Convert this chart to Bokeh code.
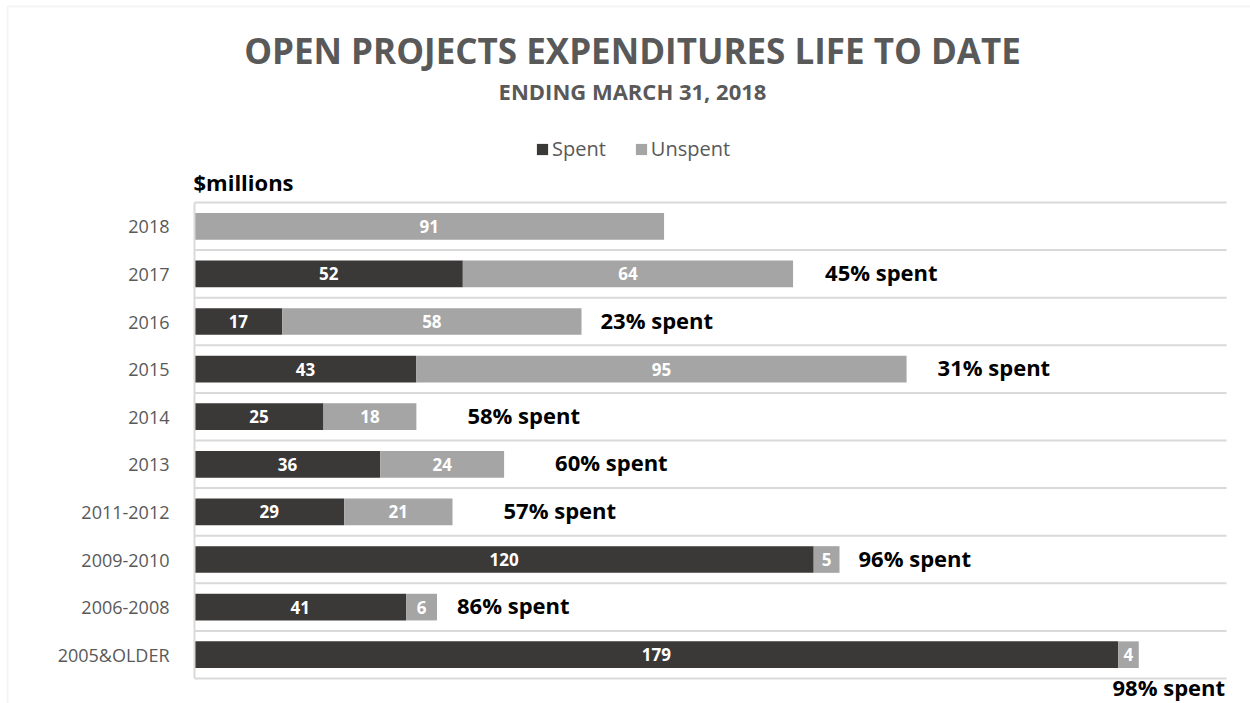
from bokeh.plotting import figure
from bokeh.models import (ColumnDataSource, FixedTicker, Label, Legend, LegendItem, BoxAnnotation)
from bokeh.core.properties import value
from bokeh.embed import file_html
from bokeh.resources import INLINE

# ---------------- data ----------------
categories = ["2018", "2017", "2016", "2015", "2014", "2013",
              "2011-2012", "2009-2010", "2006-2008", "2005&OLDER"]
spent = [0, 52, 17, 43, 25, 36, 29, 120, 41, 179]
unspent = [91, 64, 58, 95, 18, 24, 21, 5, 6, 4]
pct_labels = ["", "45% spent", "23% spent", "31% spent", "58% spent",
              "60% spent", "57% spent", "96% spent", "86% spent", "98% spent"]
series_names = ["Spent", "Unspent"]
title_text = "OPEN PROJECTS EXPENDITURES LIFE TO DATE"
subtitle_text = "ENDING MARCH 31, 2018"
unit_text = "$millions"

# ---------------- layout / style ----------------
W, H = 1250, 703
PL, PR, PT, PB = 194, 1226, 202, 678      # plot-area box in canvas pixels
XMAX = 200
SPENT_C = "#3b3838"
UNSPENT_C = "#a5a5a5"
GRID_C = "#d9d9d9"
TXT_C = "#595959"
FONT = "Open Sans"
pct_offset_px = [0, 32, 19, 31, 51, 51, 51, 19, 20, 30]
pct_below = [False] * 9 + [True]

n = len(categories)
ypos = [n - i for i in range(n)]
total = [s + u for s, u in zip(spent, unspent)]

# frame covers the whole canvas; data ranges chosen so the plot area lands on PL..PR, PT..PB
kx = XMAX / (PR - PL)
ky = n / (PB - PT)
x_range = (-PL * kx, XMAX + (W - PR) * kx)
y_range = (0.5 - (H - PB) * ky, n + 0.5 + PT * ky)

src = ColumnDataSource(dict(y=ypos, spent=spent, total=total))

p = figure(width=W, height=H, output_backend="svg", toolbar_location=None,
           x_range=x_range, y_range=y_range, x_axis_location=None,
           min_border_left=0, min_border_right=0, min_border_top=0, min_border_bottom=0,
           outline_line_color=None, background_fill_color="white",
           border_fill_color="white")
p.xgrid.visible = False
p.ygrid.visible = False

# outer chart border
p.add_layout(BoxAnnotation(left=7, right=W + 20, top=H - 6, bottom=-20,
                           left_units="screen", right_units="screen",
                           top_units="screen", bottom_units="screen",
                           fill_alpha=0, line_color=GRID_C, line_width=2))

# horizontal separators between categories
bounds = [k + 0.5 for k in range(n + 1)]
p.segment(x0=[0] * len(bounds), x1=[XMAX] * len(bounds), y0=bounds, y1=bounds,
          line_color=GRID_C, line_width=2)

r1 = p.hbar(y="y", left=0, right="spent", height=0.56, fill_color=SPENT_C,
            line_color=None, source=src)
r2 = p.hbar(y="y", left="spent", right="total", height=0.56, fill_color=UNSPENT_C,
            line_color=None, source=src)

# segment value labels
seg_x, seg_y, seg_t = [], [], []
for i in range(n):
    if spent[i] > 0:
        seg_x.append(spent[i] / 2); seg_y.append(ypos[i]); seg_t.append(str(spent[i]))
    if unspent[i] > 0:
        seg_x.append(spent[i] + unspent[i] / 2); seg_y.append(ypos[i]); seg_t.append(str(unspent[i]))
p.text(x=seg_x, y=seg_y, text=seg_t, text_align="center", text_baseline="middle",
       text_color="white", text_font=value(FONT), text_font_style="bold",
       text_font_size="17px")

# percent labels to the right of bars
px_, py_, pt_, po_ = [], [], [], []
bx_, by_, bt_, bo_ = [], [], [], []
for i in range(n):
    if not pct_labels[i]:
        continue
    if pct_below[i]:
        bx_.append(total[i]); by_.append(ypos[i]); bt_.append(pct_labels[i]); bo_.append(pct_offset_px[i])
    else:
        px_.append(total[i]); py_.append(ypos[i]); pt_.append(pct_labels[i]); po_.append(pct_offset_px[i])
p.text(x=px_, y=py_, text=pt_, x_offset=po_, y_offset=-2, text_align="left",
       text_baseline="middle", text_color="black", text_font=value(FONT),
       text_font_style="bold", text_font_size="22px")
p.text(x=bx_, y=by_, text=bt_, x_offset=bo_, y_offset=32, text_align="center",
       text_baseline="middle", text_color="black", text_font=value(FONT),
       text_font_style="bold", text_font_size="22px")

# category axis pinned at x = 0
ax = p.yaxis[0]
ax.fixed_location = 0
ax.bounds = (0.5, n + 0.5)
ax.ticker = FixedTicker(ticks=ypos)
ax.major_label_overrides = {y: c for y, c in zip(ypos, categories)}
ax.major_tick_line_color = None
ax.minor_tick_line_color = None
ax.major_tick_out = 0
ax.major_tick_in = 0
ax.major_label_standoff = 25
ax.axis_line_color = GRID_C
ax.axis_line_width = 2
ax.major_label_text_font = FONT
ax.major_label_text_font_size = "18px"
ax.major_label_text_color = TXT_C

# titles (screen units: x from left, y up from bottom)
p.add_layout(Label(x=632, y=H - 50, x_units="screen", y_units="screen",
                   text=title_text, text_align="center", text_baseline="middle",
                   text_color=TXT_C, text_font=FONT, text_font_style="bold",
                   text_font_size="35px"))
p.add_layout(Label(x=632, y=H - 90, x_units="screen", y_units="screen",
                   text=subtitle_text, text_align="center", text_baseline="middle",
                   text_color=TXT_C, text_font=FONT, text_font_style="bold",
                   text_font_size="22px"))
p.add_layout(Label(x=193, y=H - 181, x_units="screen", y_units="screen",
                   text=unit_text, text_align="left", text_baseline="middle",
                   text_color="black", text_font=FONT, text_font_style="bold",
                   text_font_size="22px"))

legend = Legend(items=[LegendItem(label=series_names[0], renderers=[r1]),
                       LegendItem(label=series_names[1], renderers=[r2])],
                orientation="horizontal", location=(535, H - 162),
                glyph_width=14, glyph_height=14, label_standoff=3, spacing=28,
                padding=0, margin=0, border_line_color=None,
                background_fill_alpha=0, label_text_font=FONT,
                label_text_font_size="20px", label_text_color=TXT_C)
p.add_layout(legend, "center")

open("out.html", "w").write(file_html(p, INLINE))
